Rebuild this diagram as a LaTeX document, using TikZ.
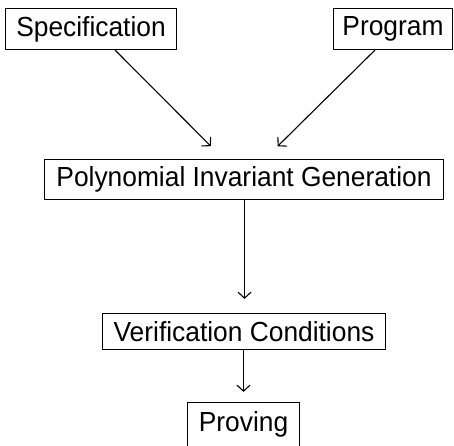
\documentclass[tikz,border=0pt]{standalone}
\usepackage{fontspec}
\setmainfont{Liberation Sans}[FakeStretch=0.955]
\usetikzlibrary{arrows.meta,calc}
\begin{document}
\begin{tikzpicture}[x=1pt,y=-1pt,
  stage/.style={draw,line width=1.2pt,inner sep=0pt,
    font=\fontsize{27.6}{31}\selectfont},
  flow/.style={line width=1.1pt,-{Straight Barb[length=6pt,width=13pt,line width=1.1pt]}},
]
\useasboundingbox (0,0) rectangle (454,445);

\node[stage,minimum width=171pt,minimum height=41pt] (spec) at (91,29) {Specification};
\node[stage,minimum width=119pt,minimum height=41pt] (prog) at (393,29) {Program};
\node[stage,minimum width=399pt,minimum height=40pt] (pig) at (244,179.5) {Polynomial Invariant Generation};
\node[stage,minimum width=283pt,minimum height=36pt] (vc) at (244,331.5) {Verification Conditions};
% the last box runs past the lower edge of the page
\node[stage,minimum width=112pt,minimum height=44pt] (prove) at (243.5,424.5) {Proving};

% points on the lower edges where the two inputs leave their boxes
\coordinate (specout) at ($(spec.south west)!0.64!(spec.south east)$);
\coordinate (progout) at ($(prog.south west)!0.35!(prog.south east)$);

\draw[flow,shorten >=18pt] (specout) -- (pig);
\draw[flow,shorten >=18pt] (progout) -- (pig);
\draw[flow,shorten >=14pt] ([xshift=0.5pt]pig.south) -- ([xshift=0.5pt]vc.north);
\draw[flow,shorten >=10pt] (vc.south -| prove.north) -- (prove.north);
\end{tikzpicture}
\end{document}
